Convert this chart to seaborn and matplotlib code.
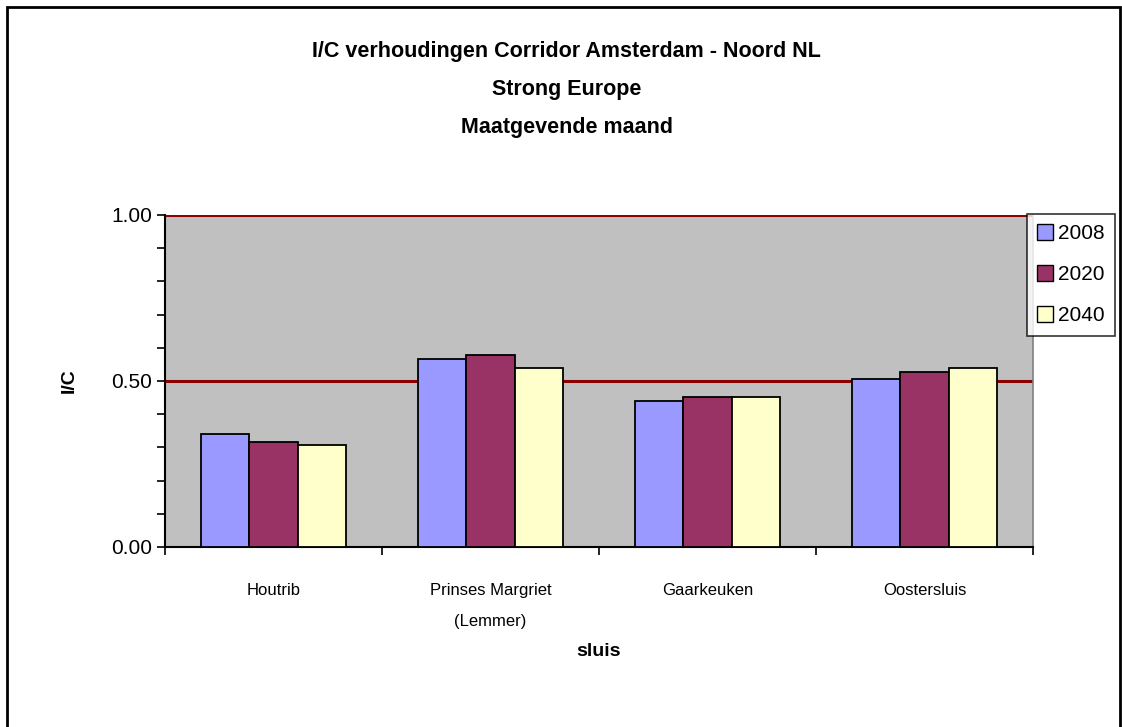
import matplotlib
matplotlib.use("Agg")
import matplotlib.pyplot as plt
import seaborn as sns
import pandas as pd
from matplotlib.patches import Rectangle
from matplotlib.ticker import MultipleLocator, FixedLocator

# data
sluizen = ['Houtrib', 'Prinses Margriet\n(Lemmer)', 'Gaarkeuken', 'Oostersluis']
jaren = ['2008', '2020', '2040']
ic_2008 = [0.339, 0.567, 0.440, 0.506]
ic_2020 = [0.317, 0.579, 0.451, 0.528]
ic_2040 = [0.306, 0.539, 0.451, 0.540]
grenzen = [0.5, 1.0]

kleuren = ['#9999FF', '#993366', '#FFFFCC']

df = pd.DataFrame({
    'sluis': sluizen * 3,
    'jaar': [j for j in jaren for _ in sluizen],
    'ic': ic_2008 + ic_2020 + ic_2040,
})

sns.set_theme(style='white')
plt.rcParams['font.family'] = ['Liberation Sans', 'DejaVu Sans']
plt.rcParams['text.color'] = 'black'
plt.rcParams['axes.labelcolor'] = 'black'
plt.rcParams['xtick.color'] = 'black'
plt.rcParams['ytick.color'] = 'black'

fig = plt.figure(figsize=(11.22, 7.27), dpi=100)
ax = fig.add_axes([0.147, 0.2476, 0.7737, 0.4567])

sns.barplot(data=df, x='sluis', y='ic', hue='jaar', order=sluizen, hue_order=jaren,
            palette=kleuren, width=0.67, edgecolor='black', linewidth=1.3,
            saturation=1, ax=ax, zorder=3)

ax.set_facecolor('#C0C0C0')
for g in grenzen:
    ax.axhline(g, color='#8B0000', linewidth=2.2, zorder=2)

ax.set_ylim(0, 1.0)
ax.set_xlim(-0.5, len(sluizen) - 0.5)
ax.yaxis.set_major_locator(MultipleLocator(0.5))
ax.yaxis.set_minor_locator(MultipleLocator(0.1))
ax.yaxis.set_major_formatter(matplotlib.ticker.FormatStrFormatter('%.2f'))
ax.tick_params(axis='y', which='both', direction='out', length=6, width=1.2,
               color='black', left=True, labelsize=15, pad=3)

# category ticks between groups, labels centred
ax.xaxis.set_major_locator(FixedLocator([i - 0.5 for i in range(len(sluizen) + 1)]))
ax.xaxis.set_major_formatter(matplotlib.ticker.NullFormatter())
ax.xaxis.set_minor_locator(FixedLocator(range(len(sluizen))))
ax.xaxis.set_minor_formatter(matplotlib.ticker.FixedFormatter(sluizen))
ax.tick_params(axis='x', which='major', direction='out', length=6, width=1.2,
               color='black', bottom=True)
ax.tick_params(axis='x', which='minor', length=0, labelsize=12, pad=26)
for lab in ax.xaxis.get_minorticklabels():
    lab.set_linespacing(2.3)

for side in ['left', 'bottom']:
    ax.spines[side].set_color('black')
    ax.spines[side].set_linewidth(1.5)
ax.spines['top'].set_visible(False)
ax.spines['right'].set_color('#808080')
ax.spines['right'].set_linewidth(1.2)

ax.set_xlabel('sluis', fontsize=14, fontweight='bold', labelpad=10)
ax.set_ylabel('I/C', fontsize=14, fontweight='bold', labelpad=24)

leg = ax.legend(loc='upper left', bbox_to_anchor=(0.9925, 1.003), frameon=True,
                fancybox=False, fontsize=15, handlelength=0.75, handleheight=0.75,
                handletextpad=0.25, labelspacing=1.05, borderpad=0.5,
                borderaxespad=0)
leg.get_frame().set_edgecolor('black')
leg.get_frame().set_linewidth(1.2)
leg.get_frame().set_facecolor('white')
for h in leg.legend_handles:
    h.set_edgecolor('black')
    h.set_linewidth(1.0)

titel = ['I/C verhoudingen Corridor Amsterdam - Noord NL', 'Strong Europe', 'Maatgevende maand']
for i, regel in enumerate(titel):
    fig.text(0.505, 1 - (52 + 37.5 * i) / 727, regel, ha='center', va='center',
             fontsize=15.5, fontweight='bold')

fig.patches.append(Rectangle((7 / 1122, -0.01), (1120 - 7) / 1122, 1 - 7 / 727 + 0.01,
                             transform=fig.transFigure, fill=False,
                             edgecolor='black', linewidth=2))

fig.savefig('out.png', dpi=100)
